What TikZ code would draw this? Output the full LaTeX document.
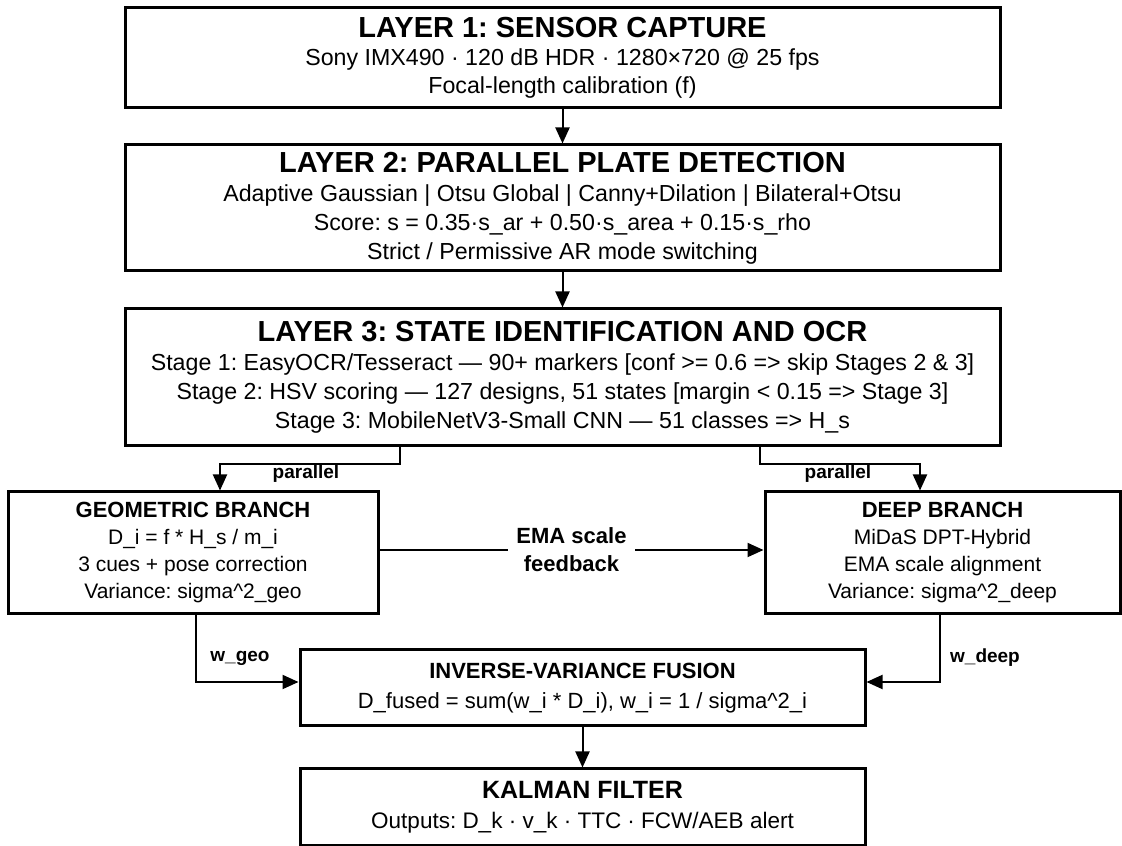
\documentclass[tikz,border=0pt]{standalone}
\usepackage{fontspec}
\setmainfont{Liberation Sans}
\usepackage{tikz}
\usetikzlibrary{arrows.meta, positioning}
\frenchspacing
\newcommand{\layertitle}[1]{{\fontsize{29}{34}\selectfont\bfseries #1}}
\newcommand{\boxtitle}[1]{{\fontsize{22}{26}\selectfont\bfseries #1}}

\begin{document}
\begin{tikzpicture}[
    x=1pt, y=1pt,
    font=\fontsize{21}{27}\selectfont,
    layer/.style={rectangle, draw=black, line width=3pt, fill=white, minimum width=875pt, align=center, text=black, inner sep=0pt, font=\fontsize{23.2}{29}\selectfont},
    stage/.style={rectangle, draw=black, line width=3pt, fill=white, minimum width=565pt, align=center, text=black, inner sep=0pt, font=\fontsize{22.5}{30}\selectfont},
    branch/.style={rectangle, draw=black, line width=3pt, fill=white, minimum height=122pt, align=center, text=black, inner sep=0pt},
    arrow/.style={-{Triangle[length=16pt, width=14pt]}, line width=2pt, black},
    tag/.style={font=\fontsize{19}{22}\selectfont\bfseries, text=black}
]
\useasboundingbox (0,0) rectangle (1122,846);

% Layers
\node[layer, minimum height=100pt, font=\fontsize{23.2}{28}\selectfont] (sensor) at (562.5,788) {\layertitle{LAYER 1: SENSOR CAPTURE}\\Sony IMX490 · 120 dB HDR · 1280×720 @ 25 fps\\Focal-length calibration (f)};
\node[layer, minimum height=126pt, below=34pt of sensor] (plate) {\layertitle{LAYER 2: PARALLEL PLATE DETECTION}\\Adaptive Gaussian | Otsu Global | Canny+Dilation | Bilateral+Otsu\\Score: s = 0.35·s\_ar + 0.50·s\_area + 0.15·s\_rho\\Strict / Permissive AR mode switching};
\node[layer, minimum height=137pt, below=35pt of plate] (ocr) {\layertitle{LAYER 3: STATE IDENTIFICATION AND OCR}\\Stage 1: EasyOCR/Tesseract — 90+ markers [conf >= 0.6 => skip Stages 2 \& 3]\\Stage 2: HSV scoring — 127 designs, 51 states [margin < 0.15 => Stage 3]\\Stage 3: MobileNetV3-Small CNN — 51 classes => H\_s};

% Branches
\node[branch, minimum width=370pt] (geo) at (193,293) {\boxtitle{GEOMETRIC BRANCH}\\D\_i = f * H\_s / m\_i\\3 cues + pose correction\\Variance: sigma\textasciicircum 2\_geo};
\node[branch, minimum width=355pt] (deep) at (942.5,293) {\boxtitle{DEEP BRANCH}\\MiDaS DPT-Hybrid\\EMA scale alignment\\Variance: sigma\textasciicircum 2\_deep};

% Fusion and filter
\node[stage, minimum height=76pt, font=\fontsize{22}{30}\selectfont] (fusion) at (582.5,158) {\boxtitle{INVERSE-VARIANCE FUSION}\\D\_fused = sum(w\_i * D\_i), w\_i = 1 / sigma\textasciicircum 2\_i};
\node[stage, minimum height=77pt, below=40pt of fusion] (kalman) {{\fontsize{25}{30}\selectfont\bfseries KALMAN FILTER}\\Outputs: D\_k · v\_k · TTC · FCW/AEB alert};

% Arrows
\draw[arrow] (sensor) -- (plate);
\draw[arrow] (plate) -- (ocr);
\draw[arrow] ([xshift=-162.5pt]ocr.south) -- ++(0,-17) -| ([xshift=27pt]geo.north);
\draw[arrow] ([xshift=197.5pt]ocr.south) -- ++(0,-17) -| ([xshift=-22.5pt]deep.north);
\draw[arrow] ([yshift=3pt]geo.east) -- node[fill=white, font=\fontsize{22}{28}\selectfont\bfseries, align=center, inner sep=8pt] (ema) {EMA scale\\feedback} ([yshift=3pt]deep.west);
\draw[arrow] ([xshift=3pt]geo.south) |- ([yshift=6pt]fusion.west);
\draw[arrow] ([xshift=-2.5pt]deep.south) |- ([yshift=6pt]fusion.east);
\draw[arrow] (fusion) -- (kalman);

% Labels
\node[tag] (par1) at (306,372) {parallel};
\node[tag] (par2) at (838,372) {parallel};
\node[tag] (wgeo) at (240,188) {w\_geo};
\node[tag] (wdeep) at (985,188) {w\_deep};

\end{tikzpicture}
\end{document}
